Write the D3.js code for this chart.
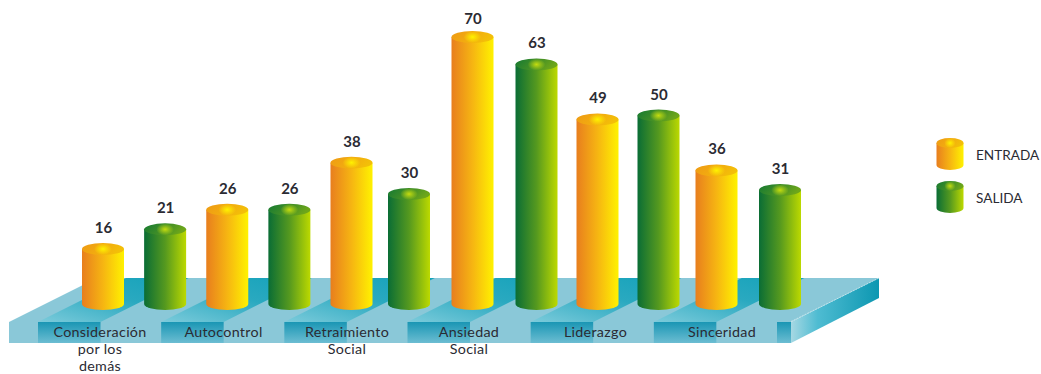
<!DOCTYPE html>
<html><head><meta charset="utf-8">
<script src="https://cdn.jsdelivr.net/npm/d3@7"></script>
<style>html,body{margin:0;padding:0;background:#fff;overflow:hidden}svg{display:block}
text{font-family:Lato,"Open Sans",sans-serif;fill:#2b2b33}</style></head>
<body><svg id="c" width="1041" height="374"></svg>
<script>
const categories = [["Consideración","por los","demás"],["Autocontrol"],["Retraimiento","Social"],["Ansiedad","Social"],["Liderazgo"],["Sinceridad"]];
const seriesNames = ["ENTRADA","SALIDA"];
const entrada = [16,26,38,70,49,36];
const salida  = [21,26,30,63,50,31];

const svg = d3.select("#c"), defs = svg.append("defs");
const W = 42, RY = 6, BASE = 304;
const y = d3.scaleLinear().domain([16,70]).range([249,37]);
const xBars = d3.scaleLinear().domain([0,4,5,6,7,9,10,11]).range([103,351.5,409,472.5,536.5,658.5,716.5,780]);
const xLabels = d3.scaleLinear().domain([0,2,3,5]).range([100,347,469,722]);
const xSlots = d3.scaleLinear().domain([0,6]).range([38,777]);

function lin(id,stops,x1=0,y1=0,x2=1,y2=0){
  const g=defs.append("linearGradient").attr("id",id).attr("x1",x1).attr("y1",y1).attr("x2",x2).attr("y2",y2);
  stops.forEach(([o,c])=>g.append("stop").attr("offset",o).attr("stop-color",c));
}
lin("side0",[[0,"#e87e1e"],[.5,"#f6b512"],[1,"#fff200"]]);
lin("side1",[[0,"#0a6d35"],[.5,"#55991f"],[1,"#bcd900"]]);
lin("top0",[[0,"#ee9a15"],[.5,"#f2aa10"],[1,"#f3bf08"]],0,0,1,.3);
lin("top1",[[0,"#157a32"],[.5,"#3d8c28"],[1,"#6da61a"]],0,0,1,.3);
[["glow0","#fff200"],["glow1","#c4dc10"]].forEach(([id,c])=>{
  const g=defs.append("radialGradient").attr("id",id);
  g.append("stop").attr("offset",0).attr("stop-color",c).attr("stop-opacity",1);
  g.append("stop").attr("offset",1).attr("stop-color",c).attr("stop-opacity",0);
});
lin("notch",[[0,"#1a96b4"],[1,"#6cbdd2"]],0,0,0,1);
lin("chan",[[0,"#14a2ba"],[.45,"#2aa9c0"],[1,"#7ccbdb"]],1,0,0,1);
lin("right",[[0,"#a6d8e3"],[.3,"#4fbcd2"],[1,"#0c97b1"]]);

const plat = svg.append("g");
const poly = pts => pts.map(p=>p.join(",")).join(" ");
plat.append("polygon").attr("points",poly([[9,322],[97,278],[879,278],[791,322]])).attr("fill","#8ac8d8");
plat.append("rect").attr("x",9).attr("y",322).attr("width",782).attr("height",21).attr("fill","#8ac8d8");
plat.append("polygon").attr("points",poly([[791,322],[879,278],[879,298],[791,343]])).attr("fill","url(#right)");
plat.append("line").attr("x1",791).attr("y1",321.5).attr("x2",879).attr("y2",278)
  .attr("stroke","#cfeaf0").attr("stroke-width",.8).attr("stroke-dasharray","2 1");
d3.range(7).forEach(i=>{
  const s=xSlots(i), w=i<6?62.5:14;
  if(i<6) plat.append("polygon").attr("points",poly([[s,322],[s+w,322],[s+w+88,278],[s+88,278]])).attr("fill","url(#chan)");
  plat.append("rect").attr("x",s).attr("y",322).attr("width",w).attr("height",21).attr("fill","url(#notch)");
});

function cyl(g,cx,top,bot,w,ry,k){
  const l=cx-w/2,r=cx+w/2,rx=w/2;
  g.append("path").attr("d",`M${l},${top}V${bot}A${rx},${ry} 0 0 0 ${r},${bot}V${top}Z`).attr("fill",`url(#side${k})`);
  g.append("ellipse").attr("cx",cx).attr("cy",top).attr("rx",rx).attr("ry",ry).attr("fill",`url(#top${k})`);
  g.append("ellipse").attr("cx",cx).attr("cy",top).attr("rx",rx*.42).attr("ry",ry).attr("fill",`url(#glow${k})`);
}

const bars = svg.append("g");
categories.forEach((c,i)=>{
  [entrada[i],salida[i]].forEach((v,k)=>{
    const cx=xBars(i*2+k);
    cyl(bars,cx,y(v),BASE,W,RY,k);
    svg.append("text").attr("x",cx+.5).attr("y",Math.max(24,y(v)-16)).attr("text-anchor","middle")
      .attr("font-size",15).attr("font-weight",700).text(v);
  });
  c.forEach((t,j)=>svg.append("text").attr("x",xLabels(i)).attr("y",336.6+j*17.2)
     .attr("text-anchor","middle").attr("font-size",14.3).attr("letter-spacing",.3).text(t));
});

const legY = d3.scalePoint().domain(seriesNames).range([143,186]);
seriesNames.forEach((n,k)=>{
  cyl(svg.append("g"),950,legY(n),legY(n)+22,27,5,k);
  svg.append("text").attr("x",976).attr("y",legY(n)+17).attr("font-size",13.6).text(n);
});
</script></body></html>
